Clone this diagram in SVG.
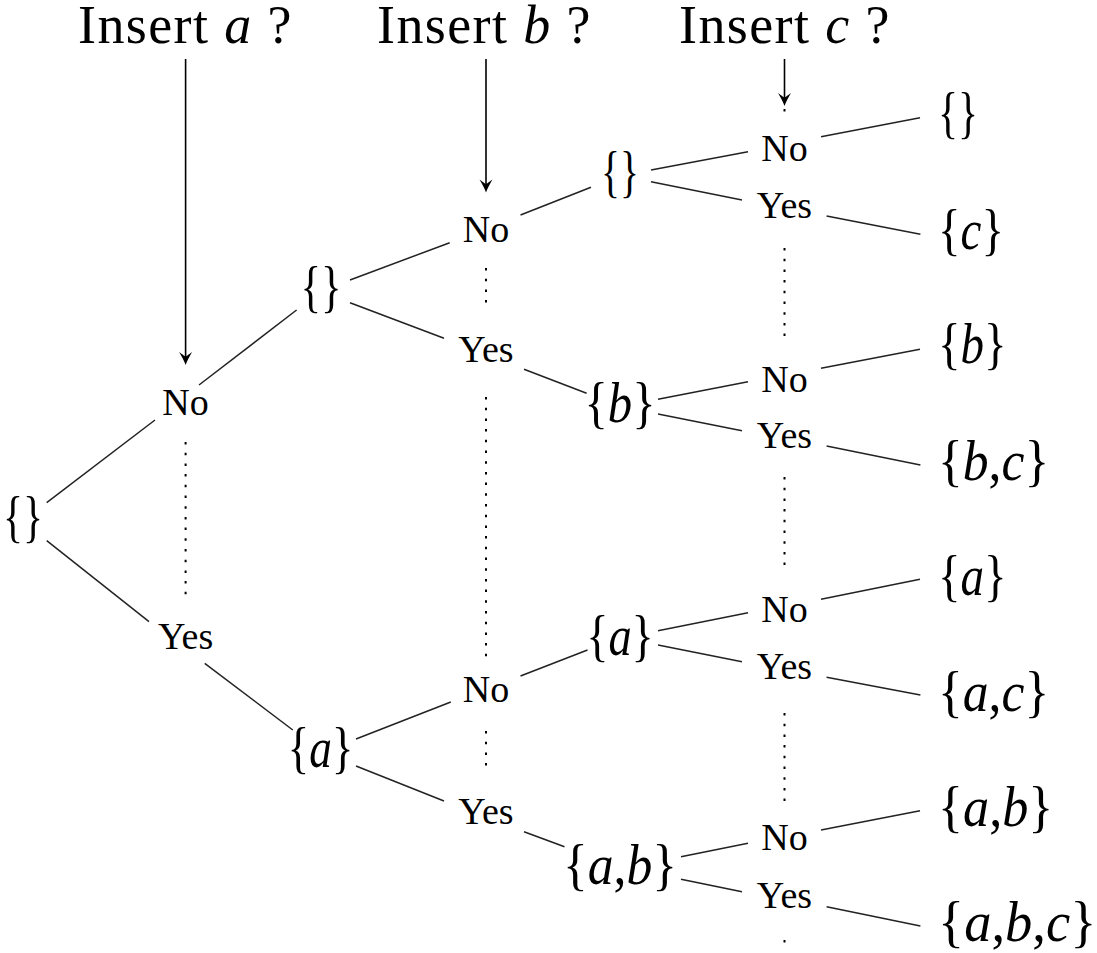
<svg xmlns="http://www.w3.org/2000/svg" width="1097" height="953" viewBox="0 0 1097 953">
<g id="connectors" fill="none">
<g id="arrows" stroke="#000" stroke-width="1.6">
<line x1="185.6" y1="59" x2="185.6" y2="358"/>
<line x1="486" y1="59" x2="486" y2="185.5"/>
<line x1="784.5" y1="59" x2="784.5" y2="99"/>
</g>
<g id="arrowheads" fill="#000" stroke="none">
<path d="M185.6,365 C184.1,361 181.6,356 179.1,352 C183.1,355 184.6,356 185.6,356.5 C186.6,356 188.1,355 192.1,352 C189.6,356 187.1,361 185.6,365 Z"/>
<path d="M486,192.5 C484.5,188.5 482,183.5 479.5,179.5 C483.5,182.5 485,183.5 486,184 C487,183.5 488.5,182.5 492.5,179.5 C490,183.5 487.5,188.5 486,192.5 Z"/>
<path d="M784.5,106 C783,102 780.5,97 778,93 C782,96 783.5,97 784.5,97.5 C785.5,97 787,96 791,93 C788.5,97 786,102 784.5,106 Z"/>
</g>
<g id="edges" stroke="#222" stroke-width="1.5">
<line x1="46.7" y1="502.7" x2="155" y2="420"/>
<line x1="46.7" y1="540.7" x2="149" y2="621.7"/>
<line x1="199" y1="385" x2="296.6" y2="310"/>
<line x1="204.7" y1="663.3" x2="292.8" y2="730"/>
<line x1="350" y1="280" x2="449.7" y2="242.7"/>
<line x1="350" y1="302.7" x2="444" y2="338.3"/>
<line x1="356" y1="739" x2="450.8" y2="702"/>
<line x1="356" y1="766" x2="444" y2="801"/>
<line x1="520.5" y1="215" x2="591" y2="187.3"/>
<line x1="524" y1="369.3" x2="586.6" y2="393.3"/>
<line x1="520.5" y1="676" x2="587.5" y2="650"/>
<line x1="524" y1="831.7" x2="564.5" y2="846.7"/>
<line x1="651" y1="170" x2="748" y2="151.7"/>
<line x1="651" y1="181.7" x2="742" y2="200"/>
<line x1="658" y1="399.3" x2="748" y2="381.7"/>
<line x1="658" y1="414" x2="742" y2="430.7"/>
<line x1="658" y1="630.7" x2="748" y2="612.7"/>
<line x1="658" y1="645" x2="742" y2="661.7"/>
<line x1="681" y1="856.7" x2="748" y2="843.3"/>
<line x1="681" y1="879.3" x2="742" y2="891.7"/>
<line x1="821" y1="136.7" x2="920" y2="117.7"/>
<line x1="826.6" y1="216" x2="920.4" y2="234.3"/>
<line x1="821" y1="368.3" x2="920" y2="349.3"/>
<line x1="826.6" y1="446" x2="920.4" y2="465"/>
<line x1="821" y1="599.3" x2="920" y2="579.3"/>
<line x1="826.6" y1="677.3" x2="920.4" y2="695"/>
<line x1="821" y1="830" x2="920" y2="810.7"/>
<line x1="826.6" y1="906.7" x2="920.4" y2="926"/>
</g>
<g id="dotted" stroke="#000" stroke-width="2" stroke-dasharray="2.5 8.2">
<line x1="185.6" y1="442" x2="185.6" y2="598"/>
<line x1="486" y1="268" x2="486" y2="305"/>
<line x1="486" y1="397" x2="486" y2="664"/>
<line x1="486" y1="731" x2="486" y2="769"/>
<line x1="784.5" y1="109" x2="784.5" y2="112"/>
<line x1="784.5" y1="248" x2="784.5" y2="338"/>
<line x1="784.5" y1="477" x2="784.5" y2="569"/>
<line x1="784.5" y1="713" x2="784.5" y2="804"/>
<line x1="784.5" y1="940" x2="784.5" y2="943"/>
</g>
</g>

<g id="titles">
<text font-family="Liberation Serif" font-size="54" x="78" y="43" letter-spacing="1.4">Insert <tspan font-style="italic">a</tspan> ?</text>
<text font-family="Liberation Serif" font-size="54" x="377" y="43" letter-spacing="1.4">Insert <tspan font-style="italic">b</tspan> ?</text>
<text font-family="Liberation Serif" font-size="54" x="679" y="43" letter-spacing="1.4">Insert <tspan font-style="italic">c</tspan> ?</text>
</g>

<g id="root"><text font-family="Liberation Serif" font-size="58" text-anchor="middle" transform="translate(23,535.5) scale(0.72,1)">{}</text></g>

<g id="a-no"><text font-family="Liberation Serif" font-size="38" text-anchor="middle" x="185.6" y="415">No</text></g>
<g id="a-yes"><text font-family="Liberation Serif" font-size="38" text-anchor="middle" x="185.6" y="649">Yes</text></g>

<g id="s-empty-2"><text font-family="Liberation Serif" font-size="58" text-anchor="middle" transform="translate(321,305.5) scale(0.74,1)">{}</text></g>
<g id="s-a-2"><text font-family="Liberation Serif" font-size="58" text-anchor="middle" transform="translate(320.5,766.5) scale(0.78,1)">{<tspan font-style="italic">a</tspan>}</text></g>

<g id="b-no-1"><text font-family="Liberation Serif" font-size="38" text-anchor="middle" x="486" y="241.7">No</text></g>
<g id="b-yes-1"><text font-family="Liberation Serif" font-size="38" text-anchor="middle" x="486" y="361.7">Yes</text></g>
<g id="b-no-2"><text font-family="Liberation Serif" font-size="38" text-anchor="middle" x="486" y="701.7">No</text></g>
<g id="b-yes-2"><text font-family="Liberation Serif" font-size="38" text-anchor="middle" x="486" y="824">Yes</text></g>

<g id="s-empty-4"><text font-family="Liberation Serif" font-size="58" text-anchor="middle" transform="translate(620,190.5) scale(0.68,1)">{}</text></g>
<g id="s-b-4"><text font-family="Liberation Serif" font-size="58" text-anchor="middle" transform="translate(620,421.5) scale(0.84,1)">{<tspan font-style="italic">b</tspan>}</text></g>
<g id="s-a-4"><text font-family="Liberation Serif" font-size="58" text-anchor="middle" transform="translate(620,654.5) scale(0.8,1)">{<tspan font-style="italic">a</tspan>}</text></g>
<g id="s-ab-4"><text font-family="Liberation Serif" font-size="58" text-anchor="middle" transform="translate(620,883.5) scale(0.89,1)">{<tspan font-style="italic">a</tspan>,<tspan font-style="italic">b</tspan>}</text></g>

<g id="c-no-1"><text font-family="Liberation Serif" font-size="38" text-anchor="middle" x="784.5" y="160.7">No</text></g>
<g id="c-yes-1"><text font-family="Liberation Serif" font-size="38" text-anchor="middle" x="784.5" y="218">Yes</text></g>
<g id="c-no-2"><text font-family="Liberation Serif" font-size="38" text-anchor="middle" x="784.5" y="391.7">No</text></g>
<g id="c-yes-2"><text font-family="Liberation Serif" font-size="38" text-anchor="middle" x="784.5" y="448.3">Yes</text></g>
<g id="c-no-3"><text font-family="Liberation Serif" font-size="38" text-anchor="middle" x="784.5" y="621.7">No</text></g>
<g id="c-yes-3"><text font-family="Liberation Serif" font-size="38" text-anchor="middle" x="784.5" y="679.3">Yes</text></g>
<g id="c-no-4"><text font-family="Liberation Serif" font-size="38" text-anchor="middle" x="784.5" y="850">No</text></g>
<g id="c-yes-4"><text font-family="Liberation Serif" font-size="38" text-anchor="middle" x="784.5" y="908.3">Yes</text></g>

<g id="leaf-empty"><text font-family="Liberation Serif" font-size="58" transform="translate(938,131.5) scale(0.72,1)">{}</text></g>
<g id="leaf-c"><text font-family="Liberation Serif" font-size="58" transform="translate(938,248.5) scale(0.81,1)">{<tspan font-style="italic">c</tspan>}</text></g>
<g id="leaf-b"><text font-family="Liberation Serif" font-size="58" transform="translate(938,362.5) scale(0.81,1)">{<tspan font-style="italic">b</tspan>}</text></g>
<g id="leaf-bc"><text font-family="Liberation Serif" font-size="58" transform="translate(938,479.5) scale(0.89,1)">{<tspan font-style="italic">b</tspan>,<tspan font-style="italic">c</tspan>}</text></g>
<g id="leaf-a"><text font-family="Liberation Serif" font-size="58" transform="translate(938,594.5) scale(0.81,1)">{<tspan font-style="italic">a</tspan>}</text></g>
<g id="leaf-ac"><text font-family="Liberation Serif" font-size="58" transform="translate(938,710.5) scale(0.89,1)">{<tspan font-style="italic">a</tspan>,<tspan font-style="italic">c</tspan>}</text></g>
<g id="leaf-ab"><text font-family="Liberation Serif" font-size="58" transform="translate(938,825.5) scale(0.9,1)">{<tspan font-style="italic">a</tspan>,<tspan font-style="italic">b</tspan>}</text></g>
<g id="leaf-abc"><text font-family="Liberation Serif" font-size="58" transform="translate(938,940.5) scale(0.94,1)">{<tspan font-style="italic">a</tspan>,<tspan font-style="italic">b</tspan>,<tspan font-style="italic">c</tspan>}</text></g>
</svg>
